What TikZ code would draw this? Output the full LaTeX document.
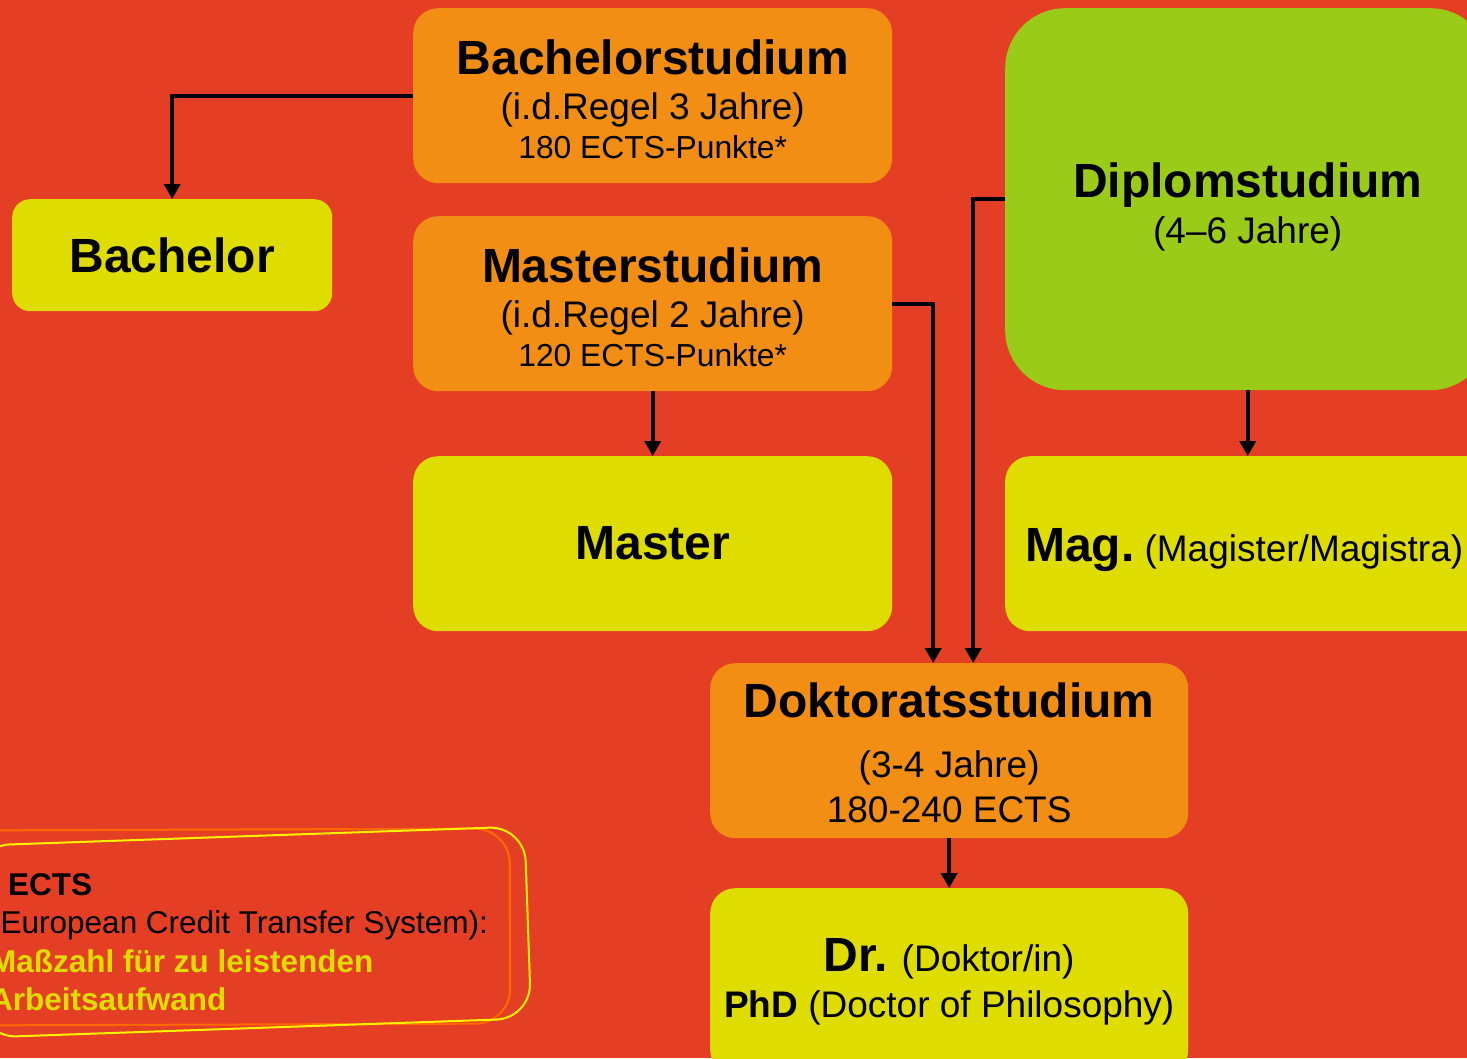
\documentclass[tikz,border=0pt]{standalone}
\usepackage{fontspec}
\setmainfont{Liberation Sans}
\usetikzlibrary{arrows.meta,calc}
\definecolor{bgred}{HTML}{E43F24}
\definecolor{studorange}{HTML}{F18E13}
\definecolor{gradyellow}{HTML}{DFDD00}
\definecolor{diplgreen}{HTML}{9ACB19}
\definecolor{frameorange}{HTML}{FF6A00}
\definecolor{frameyellow}{HTML}{FFF200}
\newcommand\headfont{\fontsize{48}{48}\selectfont\bfseries}
\newcommand\subfont{\fontsize{37}{40}\selectfont}
\newcommand\smallfont{\fontsize{31.8}{36}\selectfont}

\begin{document}
\begin{tikzpicture}[x=1pt,y=-1pt,
    box/.style={anchor=north west,rounded corners=25pt,inner sep=0pt,align=center,
      font=\fontsize{37}{39}\selectfont},
    stud/.style={box,fill=studorange},
    grad/.style={box,fill=gradyellow},
    conn/.style={line width=4pt,-{Triangle[width=16pt,length=15pt]}},
    frame/.style={rounded corners=35pt,line width=2pt,minimum width=550pt,minimum height=195pt}]
  \useasboundingbox (0,0) rectangle (1467,1058);
  \clip (0,0) rectangle (1467,1058);
  \fill[bgred] (0,0) rectangle (1467,1058);

  \node[stud,minimum width=479pt,minimum height=175pt] (bachstud) at (413,8)
    {\rule{0pt}{41pt}{\headfont Bachelorstudium}\\[6pt]{\subfont (i.d.Regel 3 Jahre)}\\{\smallfont 180 ECTS-Punkte*}};
  \node[grad,minimum width=320pt,minimum height=112pt,rounded corners=18pt] (bach) at (12,199)
    {\headfont Bachelor};
  \node[stud,minimum width=479pt,minimum height=175pt] (maststud) at (413,216)
    {\rule{0pt}{42pt}{\headfont Masterstudium}\\[6pt]{\subfont (i.d.Regel 2 Jahre)}\\{\smallfont 120 ECTS-Punkte*}};
  \node[grad,minimum width=479pt,minimum height=175pt] (mast) at (413,456)
    {\headfont Master};
  \node[box,fill=diplgreen,minimum width=485pt,minimum height=382pt,rounded corners=60pt] (dipl) at (1005,8)
    {\rule{0pt}{50pt}{\headfont Diplomstudium}\\[7pt]{\subfont (4--6 Jahre)}};
  \node[grad,minimum width=485pt,minimum height=175pt,text width=480pt,inner xsep=20pt,align=left] (mag) at (1005,456)
    {\rule{0pt}{45pt}{\headfont Mag.}\hspace{10pt}\subfont(Magister/Magistra)};
  \node[stud,minimum width=478pt,minimum height=175pt] (dokt) at (710,663)
    {\rule{0pt}{38pt}{\headfont Doktoratsstudium}\\[21pt]{\subfont (3-4 Jahre)}\\[6pt]{\subfont 180-240 ECTS}};
  \node[grad,minimum width=478pt,minimum height=187pt] (dr) at (710,888)
    {{\headfont Dr.} {\subfont (Doktor/in)}\\[7pt]{\subfont\textbf{PhD} (Doctor of Philosophy)}};

  \draw[conn] (bachstud.west) -| (bach.north);
  \draw[conn] (maststud.east) -| ([xshift=-16pt]dokt.north);
  \draw[conn] (dipl.west) -| ([xshift=24pt]dokt.north);
  \foreach \from/\to in {maststud/mast,dipl/mag,dokt/dr}{%
    \draw[conn] (\from.south) -- (\from.south |- \to.north);
  }

  \node[frame,draw=frameorange,rotate=0.2] (ectsback) at (235,927) {};
  \node[frame,draw=frameyellow,rotate=2,minimum height=192pt] (ectsfront) at (253,932) {};
  \node[anchor=north west,inner sep=0pt,align=left,font=\fontsize{31.5}{38.5}\selectfont] (ects) at (-10,873)
    {\hspace{18pt}\textbf{ECTS}\\(European Credit Transfer System):\\
     \textcolor{gradyellow}{\textbf{Maßzahl für zu leistenden}}\\\textcolor{gradyellow}{\textbf{Arbeitsaufwand}}};
\end{tikzpicture}
\end{document}
